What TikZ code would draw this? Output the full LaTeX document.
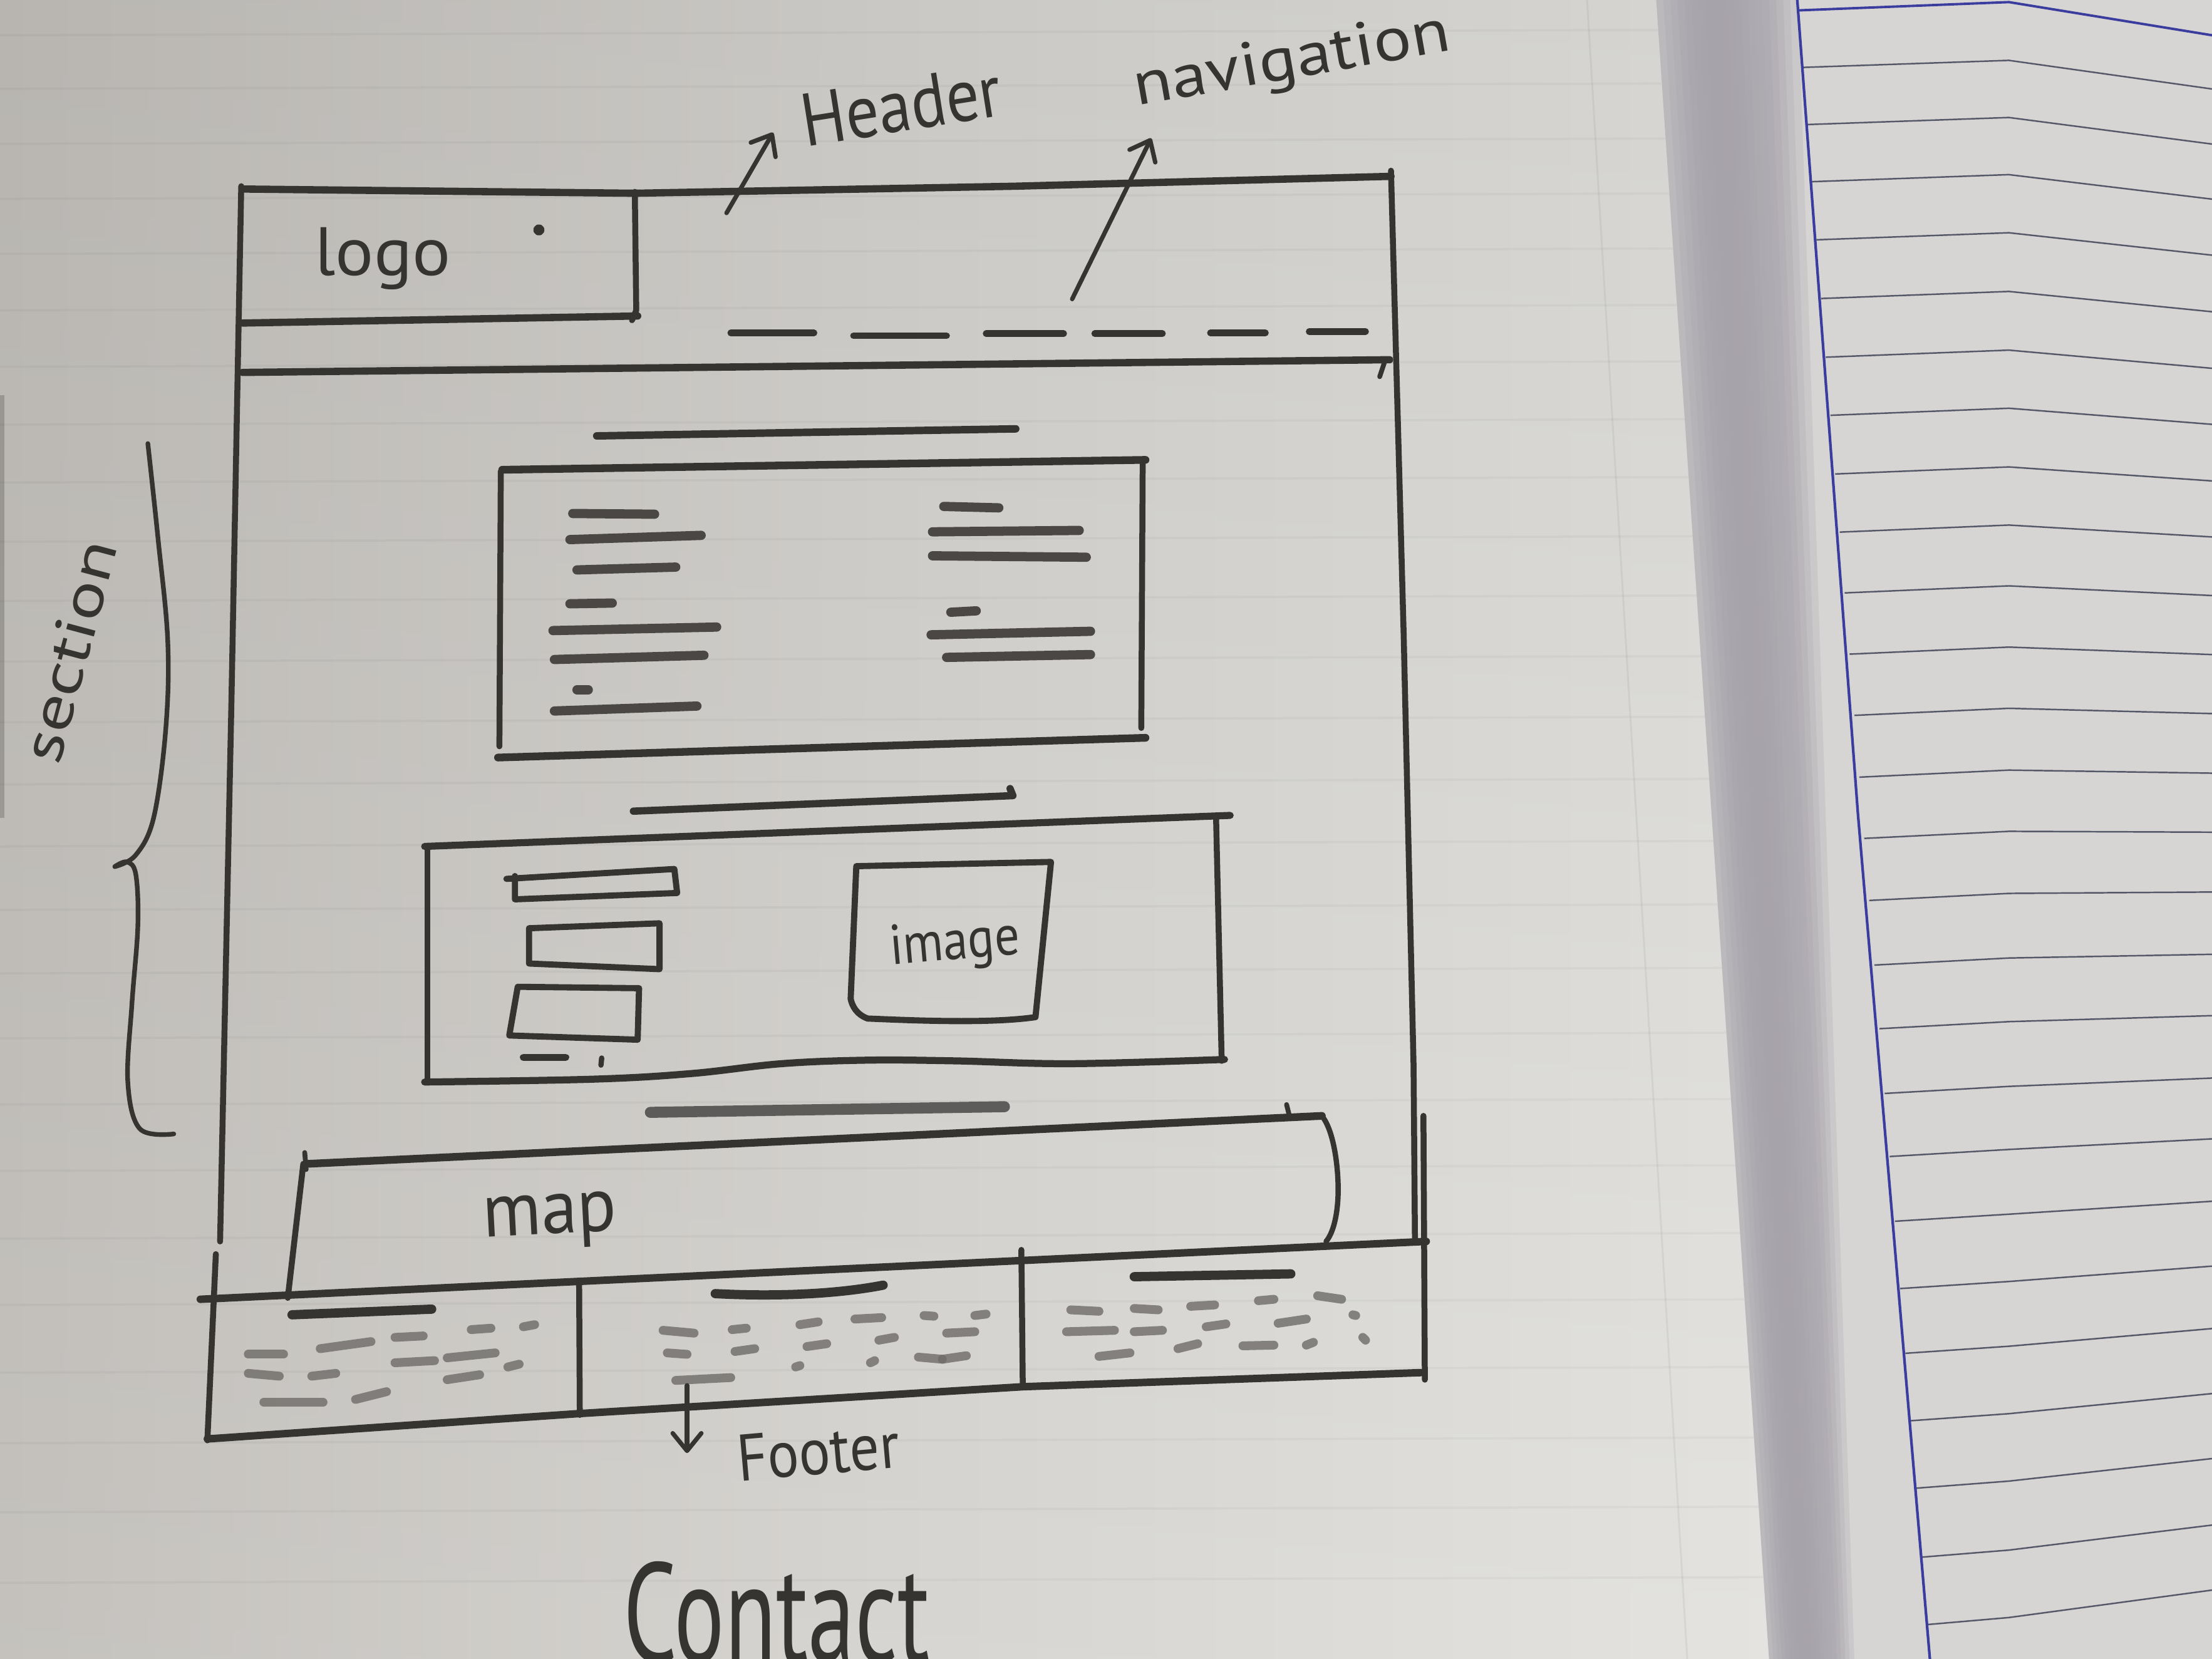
\documentclass[tikz,border=0pt]{standalone}
\usepackage{fontspec}
\newfontfamily\handfont{PT Sans}
\usetikzlibrary{arrows.meta}

\definecolor{pencil}{HTML}{363431}
\definecolor{graphite}{HTML}{4A4744}
\definecolor{smudgec}{HTML}{6E6B68}
\definecolor{pageA}{HTML}{C2BFBA}
\definecolor{pageB}{HTML}{D5D3CF}
\definecolor{pageC}{HTML}{E3E2DE}
\definecolor{pageR}{HTML}{D6D5D4}
\definecolor{shadowc}{HTML}{A7A3AB}
\definecolor{marginblue}{HTML}{3A3C9E}
\definecolor{rulec}{HTML}{555868}

\begin{document}
\begin{tikzpicture}[x=0.022526cm, y=-0.022526cm,
  pencil/.style={draw=pencil, line cap=round, line join=round, line width=3.3pt},
  pencilv/.style={pencil, line width=2.7pt},
  pencilfine/.style={pencil, line width=2.2pt},
  textbar/.style={draw=graphite, line cap=round, line width=4.2pt},
  smudge/.style={draw=smudgec, line cap=round, line width=4pt, opacity=0.8},
  hand/.style={text=pencil, inner sep=0pt, outer sep=0pt},
  pointer/.style={draw=pencil, line cap=round, line width=2pt,
    -{Straight Barb[length=8pt, width=13pt, round]}},
  rule/.style={draw=rulec, line width=0.7pt},
]
\useasboundingbox (0,0) rectangle (1568,1176);
\clip (0,0) rectangle (1568,1176);

% ---------- paper ----------
\shade[left color=pageA, right color=pageC, middle color=pageB] (0,0) rectangle (1260,1176);
\shade[top color=black, bottom color=white, opacity=0.05] (0,0) rectangle (1260,1176);
% faint ruling of the left page
\foreach \yy in {25,63,102,141,180,220,260,301,342,384,426,469,512,556,600,645,690,736,783,830,878,925,973,1023,1072,1122}
  \draw[black, opacity=0.03, line width=1pt] (0,\yy) -- (1250,\yy-4);
\draw[black, opacity=0.05, line width=0.8pt] (1125,0) -- (1196,1176);
\fill[black, opacity=0.18] (0,280) rectangle (3,580);

% right page with the shadow of the fold
\fill[pageR] (1174,0) -- (1568,0) -- (1568,1176) -- (1254,1176) -- cycle;
\foreach \i/\p in {0/55,1/68,2/78,3/86,4/92,5/96,6/98,7/100,8/100,9/99,
                   10/97,11/95,12/92,13/89,14/86,15/81,16/73,17/60,18/44,19/26}
  \fill[shadowc!\p!pageR] ({1174+\i*5},0) -- ({1174+(\i+1)*5+0.6},0)
        -- ({1254+(\i+1)*3+0.4},1176) -- ({1254+\i*3},1176) -- cycle;

% ruled lines of the right page
\foreach \yl in {47.8,88.3,128.8,170,211.6,253.2,294.4,336,377.2,420.3,463.7,
          507.1,550.9,594.3,638.3,684.1,729.2,775.1,819.8,865.7,913.4,959.3,1007.1,
          1054.9,1103.8,1151.6}
  \draw[rule] ({1274+0.0799*\yl},\yl) -- (1424,{\yl-5}) -- (1568,{\yl+17-0.036*\yl});
\draw[draw=marginblue, line width=1.1pt] (1274,7.4) -- (1424,1.5) -- (1568,25);
\draw[draw=marginblue, line width=1.2pt] (1274,0) -- (1317,577) -- (1368,1176);

% ---------- page frame ----------
\draw[pencil] (172,134) -- (450,137) -- (720,132) -- (986,125);
\draw[pencilv] (986,121) -- (995,450) -- (1002,755) -- (1003,880);
\draw[pencilv] (171,132) -- (164,500) -- (156,880);

% header
\draw[pencilv] (450,136) -- (451,220) -- (448,227);
\draw[pencil] (172,229) -- (452,224);
\draw[pencil] (172,264) -- (985,255);
\draw[pencilfine] (982,255) -- (978,267);
\node[hand, font=\handfont\fontsize{31}{36}\selectfont, anchor=base west, xscale=1.05] (logo) at (223,195) {logo};
\fill[pencil] (382,163) circle (1.4);
\foreach \a/\b/\yy in {518/577/236, 605/671/238, 699/754/236.5, 776/824/236.5, 858/897/236, 928/968/235}
  \draw[pencil, line width=3pt] (\a,\yy) -- (\b,\yy);

% labels above the header
\node[hand, font=\handfont\fontsize{34}{40}\selectfont, anchor=base west, rotate=9, xscale=0.88] (headerlabel) at (571,104) {Header};
\node[hand, font=\handfont\fontsize{28}{34}\selectfont, anchor=base west, rotate=10, xscale=1.15] (navlabel) at (806,75) {navigation};
\coordinate (hdrfoot) at (515,151);
\coordinate (hdrtip) at (548,94);
\draw[pointer] (hdrfoot) -- (hdrtip);
\coordinate (navfoot) at (760,212);
\coordinate (navtip) at (816,98);
\draw[pointer] (navfoot) -- (navtip);

% ---------- section: text block ----------
\draw[pencil, line width=3.4pt] (423,309) -- (720,304);
\draw[pencil, line width=3.5pt] (356,333) -- (812,326);
\draw[pencilv] (810,328) -- (809,516);
\draw[pencilv] (355,334) -- (354,529);
\draw[pencil, line width=3.5pt] (353,537) -- (812,523);
\foreach \xa/\ya/\xb/\yb in {406/364/464/364.5, 404/382.5/497/379.5, 409/404/479/402,
      404/428/434/427.5, 392/447/508/444.5, 393/467.5/499/464.5, 409/489/417/489,
      393/504/494/500.5, 669/359/708/360, 661/377/765/376, 661/394/770/395,
      674/434/692/433, 660/450/773/447.5, 671/466/773/464}
  \draw[textbar] (\xa,\ya) -- (\xb,\yb);

% ---------- section: fields and image ----------
\draw[pencil, line width=3.3pt] (449,575) -- (718,564) -- (716,559);
\draw[pencil, line width=3.2pt] (301,600) -- (872,578);
\draw[pencilv] (862,579) -- (866,752);
\draw[pencilv] (303,602) -- (303,767);
\draw[pencil, line width=3.2pt] plot[smooth, tension=0.6] coordinates
  {(301,767) (420,765) (490,761) (554,754) (615,751.5) (677,752) (759,754) (868,751)};
\draw[pencil, line width=2.8pt] (359,623) -- (478,616) -- (480,633) -- (365,637.5) -- (365,621);
\draw[pencil, line width=2.8pt] (375,658) -- (467.5,654.5) -- (467.5,687) -- (375,683) -- cycle;
\draw[pencil, line width=2.8pt] (367,699.5) -- (453,700.5) -- (452,737) -- (361,734) -- cycle;
\draw[pencil, line width=3.2pt] (371,749.5) -- (401,749.5);
\draw[pencil, line width=2.4pt] (426.5,750) -- (426,755);
\draw[pencil, line width=2.8pt] (607,614) -- (745,611) -- (734,721)
  .. controls (700,726) and (640,723) .. (615,722)
  .. controls (607,719) and (604,713) .. (603,708) -- cycle;
\node[hand, font=\handfont\fontsize{25.6}{30}\selectfont, anchor=base west, rotate=5, xscale=0.88] (imagelabel) at (632,684) {image};

% ---------- section: map ----------
\draw[draw=pencil!90, line cap=round, line width=5pt, opacity=0.85] (461,788.5) -- (712,784.5);
\draw[pencil, line width=3.5pt] (218,825) -- (937,791);
\draw[pencilfine] (216,817) -- (217,829);
\draw[pencilfine] (912,783) -- (914,791);
\draw[pencil, line width=2.4pt] (937,791) .. controls (946,802) and (949,830) .. (948.5,847)
  .. controls (948,862) and (945,874) .. (940,880);
\draw[pencilv] (215,825) -- (204,920);
\node[hand, font=\handfont\fontsize{35}{40}\selectfont, anchor=base west, rotate=3, xscale=0.94] (maplabel) at (343,877) {map};

% ---------- footer ----------
\draw[pencil, line width=3.4pt] (142,921) -- (1011,880);
\draw[pencilv] (153,889) -- (147,1021);
\draw[pencil, line width=3.4pt] (147,1020) -- (411,1002) -- (725,983) -- (1007,973);
\draw[pencilv] (410.5,908) -- (411,1003);
\draw[pencilv] (724,886) -- (725,982);
\draw[pencilv] (1009,791) -- (1010,978);
\draw[pencil, line width=4.2pt] (207,932) -- (306,928);
\draw[pencil, line width=4.2pt] (507,917) .. controls (545,919) and (590,918) .. (626,911);
\draw[pencil, line width=4.2pt] (804,905) -- (915,903);
\foreach \xa/\ya/\xb/\yb in {
    176/960/201/960, 227/956/263/951, 280/948/300/947, 334/942.5/348/941.5, 371/940.5/379/939,
    176/973.5/198/975.5, 221/975.5/238/973.5, 280/966/308/964.5, 317/962.5/351/959, 360/969/368/967,
    187/994/229/994, 252/992/274/986.5, 317/978/340/974.5,
    470/943/492/945, 519/942.5/529/941.5, 567/939/580/937, 606/935/625/934, 655/932.5/662/933, 691/932.5/699/931.5,
    473/959/487/960, 521/958/535/956, 572/954.5/586/952.5, 623/950/634/948, 671/945/691/944,
    564/969/567/968, 617/966/620/964.5, 651/962/668/963.5, 668/963.5/685/961,
    479/978.5/518/976.5,
    759/928.5/779/929.5, 804/927.5/821/928.5, 844/926/861/925, 892/922/903/921, 934/918.5/951/921,
    756/944/790/943, 804/944/824/943, 855/940.5/869/938.5, 906/938/926/935, 959/932/961/932.5,
    779/961.5/801/959, 835/956/849/952.5, 881/954/903/953.5, 926/953.5/931/951.5, 966/948/968/950}
  \draw[smudge] (\xa,\ya) -- (\xb,\yb);
\coordinate (ftfoot) at (487,982);
\coordinate (fttip) at (487,1030);
\draw[pointer] (ftfoot) -- (fttip);
\node[hand, font=\handfont\fontsize{30}{36}\selectfont, anchor=base west, rotate=5, xscale=0.89] (footerlabel) at (524,1050) {Footer};

% ---------- section brace and page title ----------
\draw[pencil, line width=2.1pt] plot[smooth, tension=0.6] coordinates
  {(104.8,314.4) (111.9,380.6) (118.9,454.2) (117.5,516.8) (109,579.3) (96.3,606) (81.4,614.3)};
\draw[pencil, line width=2.1pt] plot[smooth, tension=0.6] coordinates
  {(81.4,614.3) (90,611) (96.3,620) (97.7,656.6) (93.5,711.8) (90.6,767) (99.1,800.1) (123.2,803.8)};
\node[hand, font=\handfont\fontsize{26}{30}\selectfont, anchor=base west, rotate=75, xscale=1.3] (sectionlabel) at (42,543) {section};
\node[hand, font=\handfont\fontsize{64}{70}\selectfont, anchor=base west, xscale=0.67] (contactlabel) at (442,1178) {Contact};
\end{tikzpicture}
\end{document}
